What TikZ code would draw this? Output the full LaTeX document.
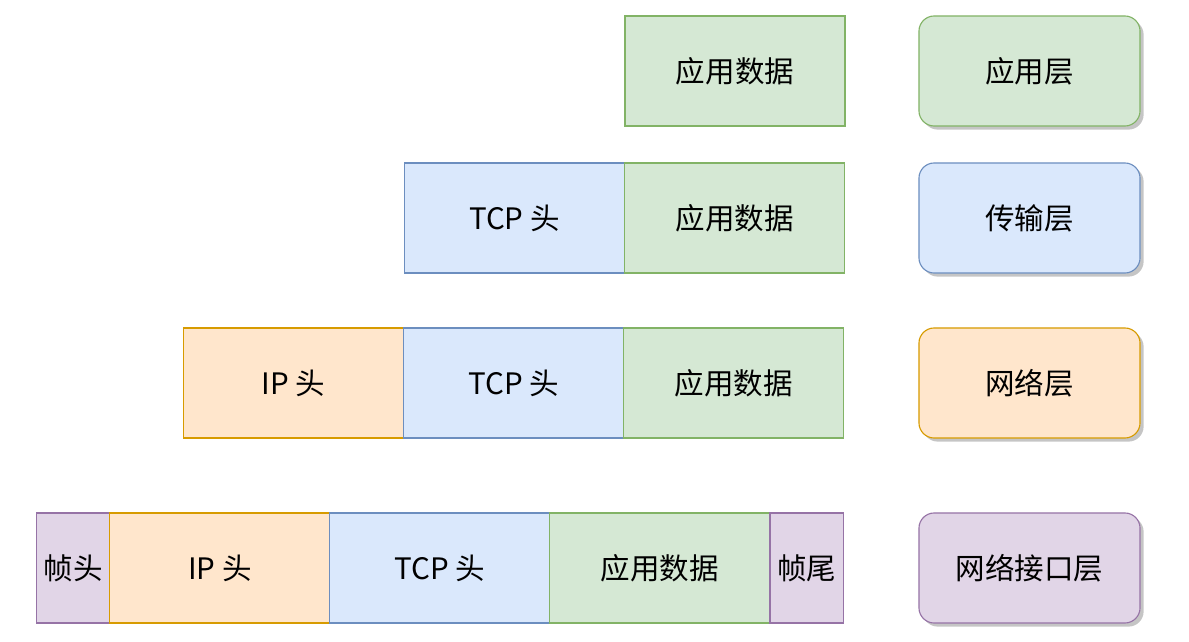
\documentclass[tikz,border=0pt]{standalone}
\usepackage{fontspec}
\setmainfont{Noto Sans CJK SC}
\usetikzlibrary{positioning, shadows}

\definecolor{gfill}{HTML}{D5E8D4}
\definecolor{gline}{HTML}{82B366}
\definecolor{bfill}{HTML}{DAE8FC}
\definecolor{bline}{HTML}{6C8EBF}
\definecolor{ofill}{HTML}{FFE6CC}
\definecolor{oline}{HTML}{D79B00}
\definecolor{pfill}{HTML}{E1D5E7}
\definecolor{pline}{HTML}{9673A6}

\tikzset{
  field/.style={draw, line width=0.8pt, minimum width=5.5cm, minimum height=2.75cm,
                inner sep=0pt, outer sep=0pt, font=\fontsize{21}{24}\selectfont},
  appdata/.style={field, fill=gfill, draw=gline},
  tcphead/.style={field, fill=bfill, draw=bline},
  iphead/.style={field, fill=ofill, draw=oline},
  frame/.style={field, fill=pfill, draw=pline, minimum width=1.84cm},
  layer/.style={draw, line width=0.8pt, rounded corners=0.38cm, minimum width=5.525cm,
                minimum height=2.75cm, inner sep=0pt,
                drop shadow={shadow xshift=0.09cm, shadow yshift=-0.09cm, fill=black!45, opacity=0.5},
                font=\fontsize{21}{24}\selectfont}
}

\begin{document}
\begin{tikzpicture}[x=0.025cm, y=-0.025cm, node distance=0pt]
  \useasboundingbox (0,0) rectangle (1189,642);

  % application layer
  \node[appdata] (app1) at (735,71) {应用数据};

  % transport layer
  \node[tcphead] (tcp2) at (514.5,218) {TCP 头};
  \node[appdata, right=of tcp2] (app2) {应用数据};

  % network layer
  \node[iphead] (ip3) at (293.5,383) {IP 头};
  \node[tcphead, right=of ip3] (tcp3) {TCP 头};
  \node[appdata, right=of tcp3] (app3) {应用数据};

  % link layer
  \node[frame] (fh4) at (73,568) {帧头};
  \node[iphead, right=of fh4] (ip4) {IP 头};
  \node[tcphead, right=of ip4] (tcp4) {TCP 头};
  \node[appdata, right=of tcp4] (app4) {应用数据};
  \node[frame, right=of app4] (ft4) {帧尾};

  % layer names
  \node[layer, fill=gfill, draw=gline] (lapp) at (1029.5,71) {应用层};
  \node[layer, fill=bfill, draw=bline] (ltcp) at (1029.5,218) {传输层};
  \node[layer, fill=ofill, draw=oline] (lip) at (1029.5,383) {网络层};
  \node[layer, fill=pfill, draw=pline] (llink) at (1029.5,568) {网络接口层};
\end{tikzpicture}
\end{document}
